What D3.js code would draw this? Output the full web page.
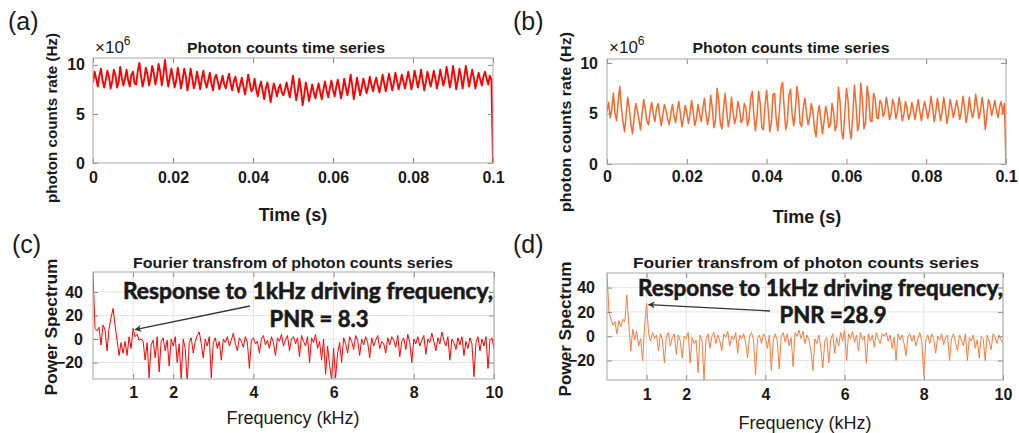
<!DOCTYPE html>
<html><head><meta charset="utf-8">
<script src="https://cdn.jsdelivr.net/npm/d3@7"></script>
<style>
body{margin:0;background:#fff;}
svg{display:block;font-family:"Liberation Sans",Arial,sans-serif;}
</style>
</head><body>
<svg id="chart" width="1019" height="433"></svg>
<script>
// ---------- data ----------
const timeStep = 0.0004;           // s between samples of the time series
const timeTicks = [0, 0.02, 0.04, 0.06, 0.08, 0.1];
const timeTickLabels = ["0", "0.02", "0.04", "0.06", "0.08", "0.1"];
const rateTicks = [0, 5, 10];
const freqStep = 0.05;             // kHz between spectrum samples
const freqTicks = [1, 2, 4, 6, 8, 10];
const powerTicks = [-20, 0, 20, 40];

// photon count rate (x10^6 Hz), panel (a)
const seriesA = [
 8.2,9.3,8.6,7.8,8.9,9.6,8.4,7.7,8.5,9.4,
 8.8,7.6,8.3,9.5,9.0,7.7,8.2,9.8,8.7,7.9,
 8.6,9.5,8.4,7.8,9.0,9.3,8.1,8.0,9.4,10.2,
 8.9,7.8,8.5,9.7,9.1,7.9,8.6,9.9,9.2,8.0,
 8.8,10.1,9.3,7.9,9.0,10.5,9.0,7.8,8.7,9.6,
 8.7,7.7,8.4,9.7,8.8,7.6,8.5,9.6,8.9,7.4,
 8.3,9.6,8.7,7.6,8.2,9.3,8.5,7.5,8.6,9.4,
 8.3,7.7,8.4,9.2,8.1,7.4,8.6,9.0,8.3,7.5,
 8.2,8.9,8.0,7.6,8.4,9.1,8.1,7.4,8.3,8.8,
 7.9,7.2,8.0,8.7,7.8,7.0,7.9,9.0,8.1,7.3,
 7.6,8.6,7.5,6.8,7.7,8.3,7.4,6.5,7.6,8.2,
 7.3,6.2,7.2,8.1,7.5,6.8,7.6,8.0,7.2,6.9,
 7.5,8.2,7.4,6.7,7.8,8.9,7.6,6.4,7.3,8.6,
 7.5,5.9,6.9,8.2,7.4,6.3,7.1,8.0,7.2,6.6,
 7.4,8.1,7.2,6.5,7.5,8.3,7.4,6.7,7.6,8.4,
 7.5,6.8,7.7,8.5,7.6,6.6,7.4,8.6,7.7,6.9,
 7.8,9.0,7.9,6.5,7.5,8.7,7.8,6.9,7.7,8.6,
 7.9,7.1,7.8,8.8,8.0,7.3,8.1,8.7,7.9,7.2,
 8.0,9.0,8.1,7.3,8.2,9.1,8.3,7.4,8.1,9.2,
 8.4,7.5,8.2,9.0,8.3,7.6,8.4,9.3,8.5,7.5,
 8.3,9.4,8.6,7.7,8.4,9.5,8.5,7.4,8.2,9.3,
 8.6,7.8,8.5,9.4,8.6,7.6,8.4,9.5,8.7,7.9,
 8.6,9.8,8.8,7.7,8.5,9.9,8.9,7.5,8.4,9.6,
 8.8,7.6,8.7,9.9,8.9,7.8,8.6,9.5,8.7,7.6,
 8.4,9.2,8.5,7.9,8.8,9.3,8.6,8.0,8.9,8.5,
 0
];
// photon count rate (x10^6 Hz), panel (b)
const seriesB = [
 5.2,6.1,4.6,5.4,7.0,5.0,4.3,6.2,7.7,5.6,
 4.2,3.2,4.8,6.6,5.5,3.9,3.0,4.6,6.0,5.3,
 4.4,3.4,5.0,6.4,5.4,4.3,3.9,5.2,6.1,5.0,
 4.2,5.5,6.0,4.8,3.8,4.9,5.9,5.3,4.4,3.9,
 5.0,5.9,4.7,4.1,5.3,6.2,4.9,3.7,4.6,5.8,
 5.1,4.0,4.9,6.3,5.2,3.8,4.5,5.9,5.0,4.2,
 5.4,6.5,5.0,3.9,4.8,6.8,5.5,3.6,4.4,7.5,
 6.3,4.0,3.5,5.5,7.0,5.2,3.7,4.6,6.6,5.1,
 4.0,4.7,6.2,5.5,4.1,4.4,6.0,5.6,3.8,4.5,
 6.5,7.2,4.9,3.3,4.8,7.2,6.0,3.6,3.4,5.8,
 7.3,5.4,3.2,4.1,6.9,7.0,4.5,3.3,5.2,7.5,
 8.1,5.6,3.4,4.2,6.8,7.4,4.9,3.8,5.3,7.7,
 6.5,4.0,3.7,5.6,6.5,5.0,3.9,4.6,6.0,5.2,
 3.5,2.7,4.9,5.8,4.4,3.0,4.2,5.7,5.0,3.6,
 3.9,6.0,5.1,3.3,3.9,7.6,6.2,3.2,2.5,5.0,
 7.5,6.3,3.4,2.5,4.8,7.8,6.0,3.3,4.0,8.0,
 6.4,3.5,4.1,7.7,6.6,4.3,4.2,7.0,6.5,4.6,
 4.5,6.3,6.0,4.7,5.1,6.6,5.7,4.4,5.0,6.4,
 5.8,4.5,5.2,6.6,5.6,4.3,4.9,6.2,5.5,4.4,
 5.0,6.1,5.3,4.4,5.5,6.4,5.2,4.3,5.4,6.2,
 5.4,4.5,5.3,6.7,5.6,4.2,5.1,6.5,5.4,4.3,
 5.2,6.6,5.5,4.0,5.0,6.4,5.6,4.6,5.3,6.3,
 5.5,4.4,5.2,6.7,5.7,4.1,5.0,6.6,5.4,4.6,
 5.3,6.9,5.8,4.5,5.2,6.6,5.5,3.4,4.8,6.4,
 5.9,4.8,5.5,6.3,5.3,4.6,5.7,6.2,5.0,6.0,
 0
];
// power spectrum, panel (c)
const spectrumC = [
 57,9,7,10,-5,12,8,-10,9,18,
 26,12,-1,-14,-3,-12,-2,-14,2,-8,
 9,2,4,-1,0,-2,-18,-3,-33,-5,
 -1,-16,2,-28,-2,1,-10,-1,-23,0,
 -6,2,-20,-4,-34,0,-8,-37,-3,1,
 -12,-2,3,6,-4,-16,0,-6,2,-33,
 -3,1,-8,-2,-18,0,-3,2,-6,-1,
 5,-4,-10,1,-2,-7,2,-3,-25,-1,
 1,-4,-2,-12,0,3,-5,-1,-8,2,
 -3,-14,1,-2,4,-6,-1,3,-10,0,
 2,-4,1,-15,3,-2,-6,2,-20,1,
 -3,4,-8,-2,-18,0,-30,-6,-22,-35,
 -8,-33,-12,-3,-20,1,-4,-12,2,-2,
 -9,3,-1,-14,0,-5,2,-3,-16,1,
 -6,-1,3,-8,-2,-4,-12,1,-5,2,
 -1,-7,3,-15,-2,1,-9,4,-3,-20,
 0,-4,2,-6,-1,3,-13,0,-3,5,
 -2,-10,1,-4,6,-1,-6,2,-18,0,
 -3,-9,1,-5,2,-14,-2,-8,1,-4,
 -32,-3,2,-10,0,-6,2,-25,-1,1,
 -8
];
// power spectrum, panel (d)
const spectrumD = [
 52,20,14,9,12,2,13,8,14,12,
 34,10,-12,6,-3,4,-8,-2,-20,8,
 27,2,-4,3,-2,1,-12,2,-3,-22,
 0,3,-8,-1,2,-15,1,-4,-18,0,
 -2,3,-22,-1,-6,-3,-30,1,-4,-36,
 -2,2,-10,0,3,-6,1,-4,-12,2,
 -1,4,-8,0,-3,3,-14,1,-2,2,
 -5,-18,0,3,-3,-32,-2,1,-6,2,
 -1,-10,1,-28,-3,2,-4,-27,0,3,
 -5,2,-8,-1,-25,3,0,5,-2,4,
 -6,1,-3,-12,-28,-2,-6,1,-10,-26,
 -4,-1,-22,-3,2,-14,-1,-8,3,-4,
 5,-20,2,-2,4,-5,1,-12,3,-3,
 0,-22,2,-4,1,-9,3,-2,-6,2,
 0,3,-4,1,-10,-1,-20,2,-3,1,
 -6,-16,0,2,-4,1,-8,-2,3,-5,
 -32,-3,1,-6,2,-2,-14,0,-3,2,
 -7,-1,1,-20,-2,2,-5,-12,1,-3,
 -8,2,-20,-1,-4,1,-10,-3,-18,0,
 -2,-20,1,-4,-11,2,-1,-6,1,-3,
 -6
];
const annotationText = "Response to 1kHz driving frequency,";
const pnrC = "PNR = 8.3";
const pnrD = "PNR =28.9";

// ---------- drawing ----------
const svg = d3.select("#chart");
const TXT = "#1a1a1a";
const defs = svg.append("defs");
defs.append("marker").attr("id","arrow").attr("viewBox","0 0 10 10")
  .attr("refX",9).attr("refY",5).attr("markerWidth",9).attr("markerHeight",7)
  .attr("markerUnits","userSpaceOnUse").attr("orient","auto")
  .append("path").attr("d","M0,0 L10,5 L0,10 L3,5 z").attr("fill","#333");

function panel(c) {
  const g = svg.append("g");
  const x = d3.scaleLinear().domain(c.xDomain).range([c.L, c.R]);
  const y = d3.scaleLinear().domain(c.yDomain).range([c.B, c.T]);
  const clipId = "clip" + c.id;
  defs.append("clipPath").attr("id", clipId).append("rect")
    .attr("x", c.L).attr("y", c.T).attr("width", c.R - c.L).attr("height", c.B - c.T);

  if (c.grid) {
    g.append("g").selectAll("line").data(c.xTicks).join("line")
      .attr("x1", d => x(d)).attr("x2", d => x(d)).attr("y1", c.T).attr("y2", c.B)
      .attr("stroke", "#e4e4e4").attr("stroke-width", 1);
    g.append("g").selectAll("line").data(c.yTicks).join("line")
      .attr("y1", d => y(d)).attr("y2", d => y(d)).attr("x1", c.L).attr("x2", c.R)
      .attr("stroke", "#e4e4e4").attr("stroke-width", 1);
  }

  g.append("path").datum(c.values)
    .attr("clip-path", `url(#${clipId})`)
    .attr("d", d3.line().x((d, i) => x(i * c.step)).y(d => y(d)))
    .attr("fill", "none").attr("stroke", c.color).attr("stroke-width", c.lw)
    .attr("stroke-linejoin", "round");

  // axes with inward ticks
  const ax = g.append("g").attr("transform", `translate(0,${c.B})`)
    .call(d3.axisBottom(x).tickValues(c.xTicks).tickFormat((d, i) => c.xLabels[i]).tickSizeInner(-5).tickSizeOuter(0));
  ax.selectAll(".tick text").attr("y", c.xLabelOff).attr("dy", null);
  const axT = g.append("g").attr("transform", `translate(0,${c.T})`)
    .call(d3.axisTop(x).tickValues(c.xTicks).tickFormat("").tickSizeInner(-5).tickSizeOuter(0));
  const ay = g.append("g").attr("transform", `translate(${c.L},0)`)
    .call(d3.axisLeft(y).tickValues(c.yTicks).tickSizeInner(-5).tickSizeOuter(0));
  ay.selectAll(".tick text").attr("x", -c.yLabelOff);
  const ayR = g.append("g").attr("transform", `translate(${c.R},0)`)
    .call(d3.axisRight(y).tickValues(c.yTicks).tickFormat("").tickSizeInner(-5).tickSizeOuter(0));
  [ax, axT, ay, ayR].forEach(a => {
    a.select(".domain").remove();
    a.selectAll(".tick line").attr("stroke", "#8a8a8a");
    a.selectAll(".tick text").attr("fill", TXT).attr("font-size", 16).attr("font-weight", "bold")
      .attr("font-family", '"Liberation Sans", Arial, sans-serif');
  });

  g.append("rect").attr("x", c.L).attr("y", c.T).attr("width", c.R - c.L).attr("height", c.B - c.T)
    .attr("fill", "none").attr("stroke", "#a8a8a8").attr("stroke-width", 1);
  return {x, y, g};
}

function label(t, x, y, opts) {
  const e = svg.append("text").attr("x", x).attr("y", y).text(t)
    .attr("fill", TXT).attr("font-size", opts.size).attr("font-weight", opts.weight || "normal")
    .attr("text-anchor", opts.anchor || "middle");
  if (opts.family) e.attr("font-family", opts.family);
  if (opts.len) e.attr("textLength", opts.len).attr("lengthAdjust", "spacingAndGlyphs");
  if (opts.rot) e.attr("transform", `rotate(-90,${x},${y})`);
  if (opts.heavy) e.attr("stroke", TXT).attr("stroke-width", opts.heavy);
  return e;
}

// panel (a)
panel({id:"a", L:93, R:493, T:58, B:163, xDomain:[0,0.1], yDomain:[0,10.7],
  xTicks: timeTicks, xLabels: timeTickLabels, yTicks: rateTicks, xLabelOff: 20, yLabelOff: 8,
  values: seriesA, step: timeStep, color: "#ff0000", lw: 1.9});
// panel (b)
panel({id:"b", L:607, R:1006, T:59, B:164, xDomain:[0,0.1], yDomain:[0,10.4],
  xTicks: timeTicks, xLabels: timeTickLabels, yTicks: rateTicks, xLabelOff: 18, yLabelOff: 9,
  values: seriesB, step: timeStep, color: "#ff6526", lw: 1.5});
// panel (c)
const pc = panel({id:"c", L:93, R:494, T:272, B:379, xDomain:[0,10], yDomain:[-34,57], grid:true,
  xTicks: freqTicks, xLabels: freqTicks.map(String), yTicks: powerTicks, xLabelOff: 19, yLabelOff: 10,
  values: spectrumC, step: freqStep, color: "#ff0000", lw: 1});
// panel (d)
const pd = panel({id:"d", L:607, R:1003, T:273, B:380, xDomain:[0,10], yDomain:[-36,52], grid:true,
  xTicks: freqTicks, xLabels: freqTicks.map(String), yTicks: powerTicks, xLabelOff: 20, yLabelOff: 12,
  values: spectrumD, step: freqStep, color: "#fb7a3c", lw: 1});

// panel letters
label("(a)", 8, 30, {size: 25, anchor: "start"});
label("(b)", 513, 30, {size: 25, anchor: "start"});
label("(c)", 12, 253, {size: 25, anchor: "start"});
label("(d)", 513, 253, {size: 25, anchor: "start"});

// titles
label("Photon counts time series", 286, 53, {size: 14, weight: "bold", len: 198});
label("Photon counts time series", 791, 53, {size: 14, weight: "bold", len: 197});
label("Fourier transfrom of photon counts series", 293, 268, {size: 14.5, weight: "bold", len: 320});
label("Fourier transfrom of photon counts series", 806, 268, {size: 15, weight: "bold", len: 346});

// x10^6 exponent labels
[[95, 53], [609, 53]].forEach(([x0, y0]) => {
  const t = svg.append("text").attr("x", x0).attr("y", y0).attr("fill", TXT).attr("font-size", 17);
  t.append("tspan").text("\u00d710");
  t.append("tspan").text("6").attr("font-size", 12).attr("dy", -8);
});

// axis titles
label("Time (s)", 293, 221, {size: 18, weight: "bold"});
label("Time (s)", 807, 223, {size: 18, weight: "bold"});
label("photon counts rate (Hz)", 57, 118, {size: 15, weight: "bold", rot: true, len: 170});
label("photon counts rate (Hz)", 571, 122, {size: 15, weight: "bold", rot: true, len: 180});
label("Frequency (kHz)", 293, 424, {size: 18});
label("Frequency (kHz)", 805, 429, {size: 18});
label("Power Spectrum", 57, 327, {size: 17, weight: "bold", rot: true, len: 137});
label("Power Spectrum", 571, 329, {size: 17, weight: "bold", rot: true, len: 135});

// annotations
const annFont = 'Lato, "Open Sans", sans-serif';
label(annotationText, 123, 299, {size: 22, weight: "bold", anchor: "start", family: annFont, len: 370, heavy: 0.6});
label(pnrC, 319, 327, {size: 22, weight: "bold", family: annFont, len: 99, heavy: 0.6});
label(annotationText, 638, 296, {size: 22, weight: "bold", anchor: "start", family: annFont, len: 365, heavy: 0.6});
label(pnrD, 833, 323, {size: 22, weight: "bold", family: annFont, len: 107, heavy: 0.6});

// arrows pointing at the 1 kHz response
svg.append("line").attr("x1", 250).attr("y1", 306).attr("x2", pc.x(1.05)).attr("y2", pc.y(8))
  .attr("stroke", "#333").attr("stroke-width", 1.3).attr("marker-end", "url(#arrow)");
svg.append("line").attr("x1", 770).attr("y1", 311).attr("x2", pd.x(1.05)).attr("y2", pd.y(26))
  .attr("stroke", "#333").attr("stroke-width", 1.3).attr("marker-end", "url(#arrow)");
</script>
</body></html>
